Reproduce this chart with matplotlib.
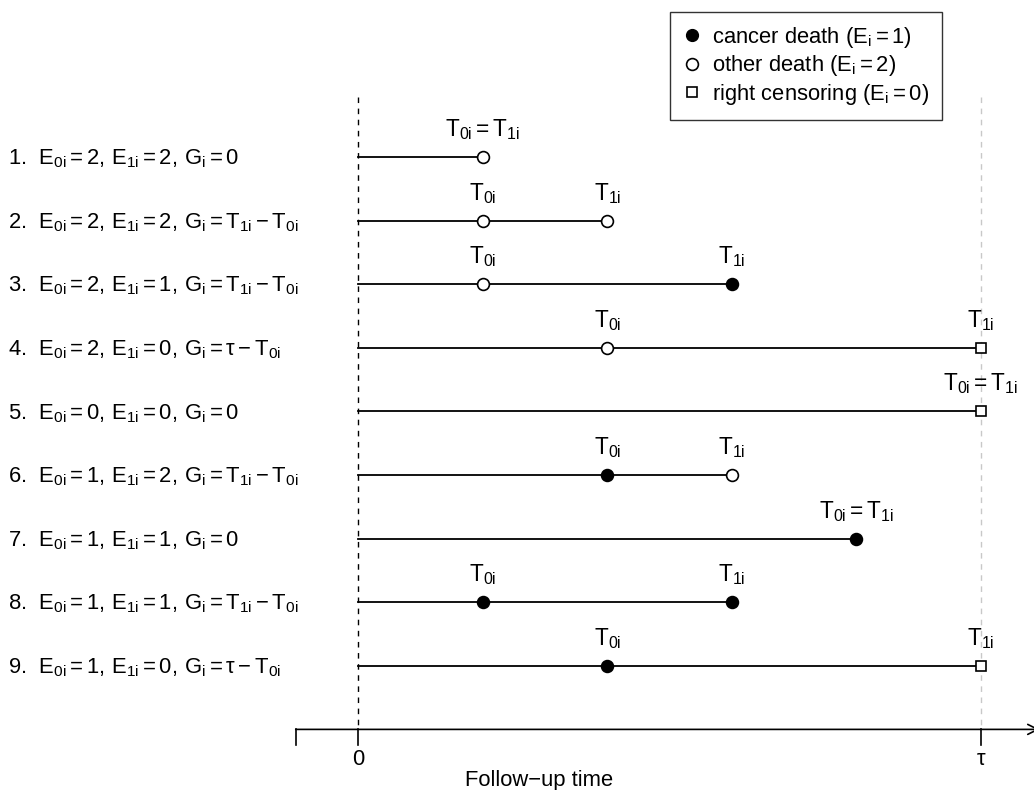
import numpy as np
import matplotlib
matplotlib.use('Agg')
import matplotlib.pyplot as plt
from matplotlib.lines import Line2D

plt.rcParams['font.family'] = ['Liberation Sans', 'DejaVu Sans']
plt.rcParams['mathtext.fontset'] = 'custom'
plt.rcParams['mathtext.rm'] = 'Liberation Sans'
plt.rcParams['mathtext.it'] = 'Liberation Sans'

# follow-up: 0 .. tau, tau = 5 units
tau = 5
t0 = [1, 1, 1, 2, 5, 2, 4, 1, 2]
t1 = [1, 2, 3, 5, 5, 3, 4, 3, 5]
e0 = [2, 2, 2, 2, 0, 1, 1, 1, 1]
e1 = [2, 2, 1, 0, 0, 2, 1, 1, 0]
gap = ['0', 'T_{1i} - T_{0i}', 'T_{1i} - T_{0i}', '\\tau - T_{0i}', '0',
       'T_{1i} - T_{0i}', '0', 'T_{1i} - T_{0i}', '\\tau - T_{0i}']

fs = 15.8
fs_t = 16.3
fig = plt.figure(figsize=(10.34, 7.9), dpi=100)
ax = fig.add_axes([0, 0, 1, 1])
ax.set_xlim(-2.873, 5.425)
ax.set_ylim(10.953, -1.469)
ax.axis('off')

def mark(x, y, e):
    if e == 1:
        ax.plot(x, y, 'o', ms=8.5, mfc='black', mec='black', mew=1.2, zorder=3)
    elif e == 2:
        ax.plot(x, y, 'o', ms=8.5, mfc='white', mec='black', mew=1.2, zorder=3)
    else:
        ax.plot(x, y, 's', ms=7, mfc='white', mec='black', mew=1.2, zorder=3)

# reference lines at 0 and tau
ax.plot([0, 0], [0.05, 10], color='black', lw=1, ls=(0, (4, 4)))
ax.plot([tau, tau], [0.05, 10], color='#c8c8c8', lw=1, ls=(0, (4, 4)))

for i in range(9):
    y = i + 1
    ax.plot([0, t1[i]], [y, y], color='black', lw=1.3, zorder=2)
    if t0[i] == t1[i]:
        mark(t1[i], y, e1[i])
        ax.text(t1[i], y - 0.33, r'$\mathregular{T_{0i} = T_{1i}}$', ha='center', va='baseline', fontsize=fs_t)
    else:
        mark(t0[i], y, e0[i])
        mark(t1[i], y, e1[i])
        ax.text(t0[i], y - 0.33, r'$\mathregular{T_{0i}}$', ha='center', va='baseline', fontsize=fs_t)
        ax.text(t1[i], y - 0.33, r'$\mathregular{T_{1i}}$', ha='center', va='baseline', fontsize=fs_t)
    lab = '%d.  $\\mathregular{E_{0i} = %d,\\,E_{1i} = %d,\\,G_i = %s}$' % (y, e0[i], e1[i], gap[i])
    ax.text(-2.81, y + 0.12, lab, ha='left', va='baseline', fontsize=fs)

# time axis
ax.annotate('', xy=(5.47, 10), xytext=(-0.5, 10), annotation_clip=False,
            arrowprops=dict(arrowstyle='->', lw=1.2, color='black', mutation_scale=18, shrinkA=0, shrinkB=0))
for x in [-0.5, 0, tau]:
    ax.plot([x, x], [10, 10.25], color='black', lw=1.2)
ax.text(0, 10.47, '0', ha='center', va='center', fontsize=fs)
ax.text(tau, 10.47, r'$\mathregular{\tau}$', ha='center', va='center', fontsize=fs)
ax.text(1.45, 10.8, 'Follow\u2212up time', ha='center', va='center', fontsize=fs)

handles = [
    Line2D([], [], ls='none', marker='o', ms=8.5, mfc='black', mec='black'),
    Line2D([], [], ls='none', marker='o', ms=8.5, mfc='white', mec='black', mew=1.2),
    Line2D([], [], ls='none', marker='s', ms=7, mfc='white', mec='black', mew=1.2),
]
labels = [r'cancer death ($\mathregular{E_i = 1}$)',
          r'other death ($\mathregular{E_i = 2}$)',
          r'right censoring ($\mathregular{E_i = 0}$)']
leg = ax.legend(handles, labels, loc='upper left', bbox_to_anchor=(670 / 1034, 1 - 12 / 790),
                fontsize=fs, frameon=True, fancybox=False, handlelength=0.8, handletextpad=0.5,
                labelspacing=0.15, borderpad=0.6, borderaxespad=0)
leg.get_frame().set_edgecolor('black')
leg.get_frame().set_linewidth(1.0)

fig.savefig('out.png', dpi=100)
